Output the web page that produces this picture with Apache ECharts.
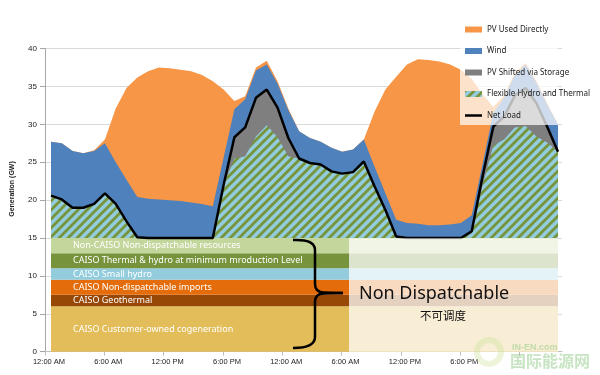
<!DOCTYPE html>
<html>
<head>
<meta charset="utf-8">
<script src="https://cdn.jsdelivr.net/npm/echarts@6/dist/echarts.min.js"></script>
<style>
  html, body { margin: 0; padding: 0; background: #fff; }
  #chart { width: 600px; height: 375px; }
</style>
</head>
<body>
<div id="chart"></div>
<script>
// two days, one value per hour (0..47), GW, tops of each layer
const netLoad = [20.6, 20.1, 19.0, 19.0, 19.5, 20.9, 19.5, 17.2, 15.1, 15, 15, 15, 15, 15, 15, 15,
  22.0, 28.3, 29.6, 33.5, 34.6, 32.2, 28.2, 25.5, 24.9, 24.7, 23.8, 23.5, 23.7, 25.1, 21.8, 18.7,
  15.2, 15, 15, 15, 15, 15, 15, 15.9, 23.1, 29.7, 31.0, 33.8, 34.8, 32.8, 29.7, 26.4]
const flexTop = [20.6, 20.1, 19.0, 19.0, 19.5, 20.9, 19.5, 17.2, 15.1, 15, 15, 15, 15, 15, 15, 15,
  22.0, 25.5, 25.8, 28.4, 29.9, 28.3, 25.8, 25.5, 24.9, 24.7, 23.8, 23.5, 23.7, 25.1, 21.8, 18.7,
  15.2, 15, 15, 15, 15, 15, 15, 15.6, 21.9, 27.2, 28.0, 29.6, 29.8, 28.4, 27.6, 26.4]
const windTop = [27.7, 27.5, 26.5, 26.2, 26.5, 27.5, 25.0, 22.7, 20.4, 20.2, 20.1, 20.0, 19.9, 19.7, 19.5, 19.2,
  25.6, 32.0, 33.3, 37.1, 37.9, 35.4, 31.9, 29.1, 28.2, 27.7, 26.9, 26.4, 26.7, 28.0, 24.4, 20.9,
  17.4, 17.0, 16.9, 16.7, 16.7, 16.8, 17.0, 18.0, 24.7, 31.5, 33.5, 36.5, 37.9, 35.5, 32.6, 30.0]
const pvTop = [27.7, 27.5, 26.5, 26.2, 26.6, 28.0, 32.1, 34.8, 36.2, 37.0, 37.5, 37.4, 37.2, 37.0, 36.5, 35.7,
  34.6, 33.1, 33.7, 37.5, 38.4, 35.7, 32.1, 29.1, 28.2, 27.7, 26.9, 26.4, 26.7, 28.0, 31.7, 34.6,
  36.3, 37.9, 38.6, 38.5, 38.3, 37.9, 37.2, 36.0, 34.0, 32.3, 33.8, 36.8, 38.1, 35.7, 32.8, 30.0]
const hours = netLoad.map((v, i) => String(i))

const hourTicks = ['12:00 AM', '6:00 AM', '12:00 PM', '6:00 PM']

// non dispatchable base, GW
const bands = [
  { name: 'CAISO Customer-owned cogeneration', from: 0, to: 6, color: '#E2BD5A' },
  { name: 'CAISO Geothermal', from: 6, to: 7.5, color: '#974807' },
  { name: 'CAISO Non-dispatchable imports', from: 7.5, to: 9.5, color: '#E46C0A' },
  { name: 'CAISO Small hydro', from: 9.5, to: 11, color: '#93CDDD' },
  { name: 'CAISO Thermal & hydro at minimum mroduction Level', from: 11, to: 13, color: '#77933C' },
  { name: 'Non-CAISO Non-dispatchable resources', from: 13, to: 15, color: '#C3D69B' }
]

function hatch() {
  const c = document.createElement('canvas')
  c.width = 9
  c.height = 9
  const g = c.getContext('2d')
  g.fillStyle = '#93CDDD'
  g.fillRect(0, 0, 9, 9)
  g.strokeStyle = '#77933C'
  g.lineWidth = 2.8
  g.beginPath()
  g.moveTo(-2, 11); g.lineTo(11, -2)
  g.moveTo(-2, 2); g.lineTo(2, -2)
  g.moveTo(7, 11); g.lineTo(11, 7)
  g.stroke()
  return { image: c, repeat: 'repeat' }
}
const hatchFill = hatch()

const area = (name, data, color) => ({
  name,
  type: 'line',
  xAxisIndex: 1,
  yAxisIndex: 1,
  z: 2,
  data,
  symbol: 'none',
  silent: true,
  lineStyle: { width: 0 },
  itemStyle: { color },
  areaStyle: { color, opacity: 1, origin: 15 }
})

const chart = echarts.init(document.getElementById('chart'))
const pvSeries = area('PV Used Directly', pvTop, '#F79646')
pvSeries.markArea = {
  silent: true,
  label: { position: 'insideLeft', distance: 22, color: '#fff', fontSize: 9, fontFamily: 'Noto Sans' },
  data: bands.map(b => [{ yAxis: b.from, name: b.name, itemStyle: { color: b.color, opacity: 1 } }, { yAxis: b.to }])
}

const braceStyle = { fill: 'none', stroke: '#000', lineWidth: 2.5 }
const curve = (x1, y1, cpx, cpy, x2, y2) => ({ type: 'bezierCurve', z: 5, silent: true, shape: { x1, y1, cpx1: cpx, cpy1: cpy, x2, y2 }, style: braceStyle })
const seg = (x1, y1, x2, y2) => ({ type: 'line', z: 5, silent: true, shape: { x1, y1, x2, y2 }, style: braceStyle })

chart.setOption({
  animation: false,
  textStyle: { fontFamily: 'Liberation Sans' },
  grid: [
    { left: 45, right: 38, top: 48.6, bottom: 23.3 },
    { left: 51, right: 42, top: 48.6, bottom: 23.3 }
  ],
  xAxis: [
    {
      type: 'value',
      gridIndex: 0,
      min: 0,
      max: 52.3,
      interval: 6,
      axisLine: { lineStyle: { color: '#BFBFBF' } },
      axisTick: { show: true, length: 4, lineStyle: { color: '#BFBFBF' } },
      splitLine: { show: false },
      axisLabel: {
        fontSize: 7.5,
        color: '#222',
        margin: 6,
        padding: [0, 0, 0, 8],
        showMaxLabel: false,
        formatter: v => (v % 6 === 0 && v < 48 ? hourTicks[(v / 6) % 4] : '')
      }
    },
    { type: 'category', gridIndex: 1, data: hours, boundaryGap: false, show: false }
  ],
  yAxis: [
    {
      type: 'value',
      gridIndex: 0,
      min: 0,
      max: 40,
      interval: 5,
      axisLine: { show: true, lineStyle: { color: '#A6A6A6' } },
      axisTick: { show: true, length: 5, lineStyle: { color: '#A6A6A6' } },
      splitLine: { lineStyle: { color: '#D9D9D9' } },
      axisLabel: { fontSize: 8, color: '#222', margin: 8 }
    },
    { type: 'value', gridIndex: 1, min: 0, max: 40, show: false, splitLine: { show: false } }
  ],
  legend: {
    orient: 'vertical',
    z: 6,
    left: 460,
    top: 19,
    itemWidth: 17,
    itemHeight: 6,
    itemGap: 10.5,
    itemStyle: { borderWidth: 0 },
    textStyle: { fontSize: 8, color: '#222', fontFamily: 'Noto Sans', lineHeight: 11 },
    data: [
      { name: 'PV Used Directly', icon: 'rect' },
      { name: 'Wind', icon: 'rect' },
      { name: 'PV Shifted via Storage', icon: 'rect' },
      { name: 'Flexible Hydro and Thermal', icon: 'rect' },
      { name: 'Net Load', icon: 'path://M0,0H17V2.5H0Z' }
    ]
  },
  series: [
    pvSeries,
    area('Wind', windTop, '#4F81BD'),
    area('PV Shifted via Storage', netLoad, '#7F7F7F'),
    area('Flexible Hydro and Thermal', flexTop, hatchFill),
    {
      name: 'Net Load',
      type: 'line',
      xAxisIndex: 1,
      yAxisIndex: 1,
      z: 2,
      data: netLoad,
      symbol: 'none',
      silent: true,
      itemStyle: { color: '#000' },
      lineStyle: { color: '#000', width: 2.5 }
    }
  ],
  graphic: [
    // pale boxes over the right part of the base and behind the legend
    { type: 'rect', z: 4, silent: true, shape: { x: 349, y: 238.2, width: 209, height: 113.5 }, style: { fill: 'rgba(255,255,255,0.75)' } },
    { type: 'rect', z: 4, silent: true, shape: { x: 460, y: 14, width: 98, height: 111 }, style: { fill: 'rgba(255,255,255,0.72)' } },
    // brace
    curve(293, 240, 315, 239, 315, 250),
    seg(315, 250, 315, 284),
    curve(315, 284, 315, 292.5, 324, 292.5),
    seg(324, 292.5, 343, 293),
    seg(343, 293, 324, 293.5),
    curve(324, 293.5, 315, 293.5, 315, 302),
    seg(315, 302, 315, 337),
    curve(315, 337, 315, 348, 293, 348),
    { type: 'text', z: 5, silent: true, x: 359, y: 294, style: { text: 'Non Dispatchable', font: '18px "Noto Sans"', fill: '#111', verticalAlign: 'middle' } },
    { type: 'text', z: 5, silent: true, x: 443, y: 316, style: { text: '不可调度', font: '11.5px "Noto Sans CJK SC"', fill: '#111', align: 'center', verticalAlign: 'middle' } },
    { type: 'text', z: 5, silent: true, x: 12, y: 189, rotation: Math.PI / 2, style: { text: 'Generation (GW)', font: 'bold 7px "Liberation Sans"', fill: '#222', align: 'center', verticalAlign: 'middle' } },
    // site watermark
    { type: 'circle', z: 6, silent: true, shape: { cx: 489, cy: 352, r: 12 }, style: { fill: 'none', stroke: 'rgba(200,225,150,0.35)', lineWidth: 6 } },
    { type: 'text', z: 6, silent: true, x: 512, y: 348, style: { text: 'IN-EN.com', font: 'bold 9px "Liberation Sans"', fill: 'rgba(130,195,120,0.45)', verticalAlign: 'middle' } },
    { type: 'text', z: 6, silent: true, x: 510, y: 361, style: { text: '国际能源网', font: 'bold 16px "Noto Sans CJK SC"', fill: 'rgba(130,195,120,0.45)', verticalAlign: 'middle' } }
  ]
})
</script>
</body>
</html>
